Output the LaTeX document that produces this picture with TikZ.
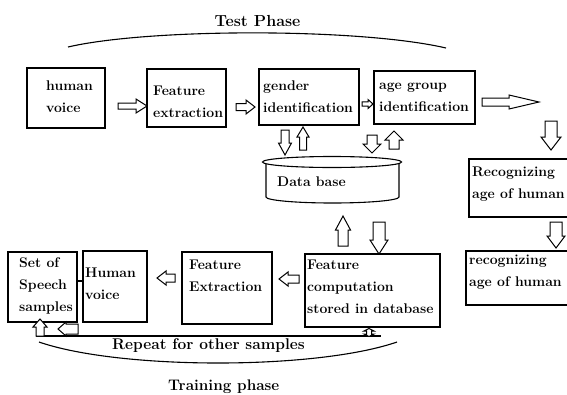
\documentclass[tikz,border=0pt]{standalone}
\usepackage{fontspec}
\usetikzlibrary{calc}
\newcommand\mlines[1]{\begin{tabular}[t]{@{}l@{}}#1\end{tabular}}
\newcommand\barrow[6]{\draw[arrowline, shift={(#1)}, rotate=#2] (0,-#4) -- ({#3-#6},-#4) -- ({#3-#6},-#5) -- (#3,0) -- ({#3-#6},#5) -- ({#3-#6},#4) -- (0,#4) -- cycle;}
\begin{document}
\begin{tikzpicture}[x=1pt,y=-1pt,
  box/.style={draw, line width=1.3pt, rectangle, inner sep=0pt},
  arrowline/.style={draw, line width=1pt, line join=miter, fill=white},
  txt/.style={anchor=base west, inner sep=0pt, font=\fontsize{14}{22}\selectfont\bfseries},
  title/.style={inner sep=0pt, font=\fontsize{15.5}{18}\selectfont\bfseries},
  phase/.style={line width=1.1pt}]
\useasboundingbox (0,0) rectangle (567,394);
\clip (0,0) rectangle (567,394);

% boxes
\node[box, minimum width=78pt, minimum height=60pt] (hv) at (66,98) {};
\node[box, minimum width=79pt, minimum height=58pt] (fe1) at (186.5,98) {};
\node[box, minimum width=100pt, minimum height=56pt] (gi) at (309,97) {};
\node[box, minimum width=101pt, minimum height=53pt] (ag) at (424.5,97.5) {};
\node[box, minimum width=103pt, minimum height=58pt] (rec1) at (520.5,188) {};
\node[box, minimum width=106pt, minimum height=54pt] (rec2) at (519,278) {};
\node[box, minimum width=69pt, minimum height=70pt] (set) at (42.5,287) {};
\node[box, minimum width=64pt, minimum height=71pt] (hv2) at (115,286.5) {};
\node[box, minimum width=90pt, minimum height=72pt] (fe2) at (227,288) {};
\node[box, minimum width=135pt, minimum height=73pt] (fc) at (372.5,290.5) {};

% texts
\node[txt] (thv) at (46,90.7) {\mlines{human\\voice}};
\node[txt] (tfe1) at (153,95) {\mlines{Feature\\extraction}};
\node[txt] (tgi) at (263,90.7) {\mlines{gender\\identification}};
\node[txt] (tag) at (379,89.3) {\mlines{age group\\identification}};
\node[txt] (trec1) at (472,176) {\mlines{Recognizing\\age of human}};
\node[txt] (tset) at (19,267.3) {\mlines{Set of\\Speech\\samples}};
\node[txt] (thv2) at (85,277.3) {\mlines{Human\\voice}};
\node[txt] (tfe2) at (189,269) {\mlines{Feature\\Extraction}};
\node[txt] (tfc) at (307,269) {\mlines{Feature\\computation\\stored in database}};
\node[txt] (trec2) at (469,264.7) {\mlines{recognizing\\age of human}};

% database cylinder
\draw[line width=1.1pt] (332,162) ellipse [x radius=69.5, y radius=5.5];
\draw[line width=1.1pt] (266,164) -- (266,197) arc[start angle=180, end angle=0, x radius=66.5, y radius=6] -- (399,164);
\node[txt] (db) at (277,186.7) {Data base};

% phase labels
\node[title, anchor=base, font=\fontsize{16}{18}\selectfont\bfseries] (test) at (257.5,26) {Test Phase};
\draw[phase] (68,47) .. controls (150,28) and (360,28) .. (446,48);
\node[title, anchor=base west] (rep) at (112,349.5) {Repeat for other samples};
\node[title, anchor=base west, font=\fontsize{15.3}{18}\selectfont\bfseries] (train) at (168,390) {Training phase};
\draw[phase] (39,342) .. controls (120,370) and (316,370) .. (397,342);
\draw[line width=1.1pt] (36,336) -- (381,336);
\draw[line width=1.1pt] ([yshift=6pt]set.east) -- ([yshift=6pt]set.east -| hv2.west);

% block arrows: tail, angle, length, shaft half, head half, head length
\barrow{118,106}{0}{29}{3}{7}{11}
\barrow{236,107}{0}{19}{3.5}{7}{9}
\barrow{362,104}{0}{11}{2.2}{4.5}{5}
\barrow{482,102}{0}{57}{4}{7}{30}
\barrow{285,130}{-90}{25}{4}{6.5}{12}
\barrow{303,150}{90}{23}{3.5}{6}{10}
\barrow{372,135}{-90}{18}{5}{9}{9}
\barrow{394,149}{90}{18}{5}{9}{9}
\barrow{551,121}{-90}{29}{6}{10}{13}
\barrow{556,222}{-90}{26}{6}{9}{12}
\barrow{343,246}{90}{30}{5}{7.5}{14}
\barrow{379,222}{-90}{32}{6}{9}{14}
\barrow{299,279}{180}{20}{4}{7}{9}
\barrow{175,278}{180}{18}{4}{7}{9}
\barrow{78,329}{180}{20}{5}{7}{8}
\barrow{40,336}{90}{17}{4}{7}{8}
\draw[arrowline] (369,328.5) -- (374,331) -- (371.5,331) -- (371.5,334) -- (374,334) -- (369,336.5) -- (364,334) -- (366.5,334) -- (366.5,331) -- (364,331) -- cycle;
\end{tikzpicture}
\end{document}
